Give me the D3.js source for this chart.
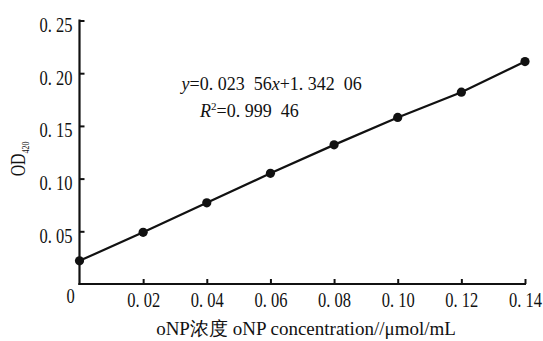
<!DOCTYPE html>
<html><head><meta charset="utf-8">
<script src="https://cdn.jsdelivr.net/npm/d3@7/dist/d3.min.js"></script>
<style>
html,body{margin:0;padding:0;background:#fff;}
svg text{font-family:"Liberation Serif","Times New Roman",serif;fill:#111;}
</style></head>
<body><svg id="c" width="543" height="341"></svg>
<script>
const concentrations = [0, 0.02, 0.04, 0.06, 0.08, 0.10, 0.12, 0.14];
const odValues = [0.022, 0.049, 0.077, 0.105, 0.132, 0.158, 0.182, 0.211];
const xTickValues = [0.02, 0.04, 0.06, 0.08, 0.10, 0.12, 0.14];
const xTickLabels = ["0. 02", "0. 04", "0. 06", "0. 08", "0. 10", "0. 12", "0. 14"];
const yTickValues = [0.05, 0.10, 0.15, 0.20, 0.25];
const yTickLabels = ["0. 05", "0. 10", "0. 15", "0. 20", "0. 25"];
const originLabel = "0";
const xTitle = "oNP浓度 oNP concentration//μmol/mL";
const yTitle = "OD";
const yTitleSub = "420";

const FONT = '"Liberation Serif","Times New Roman",serif';
const svg = d3.select("#c");
const x = d3.scaleLinear().domain([0, 0.14]).range([79.5, 525]);
const y = d3.scaleLinear().domain([0, 0.25]).range([284, 20.5]);
const ink = "#111";

// X axis
const xAxis = d3.axisBottom(x).tickValues(xTickValues)
  .tickFormat((d, i) => xTickLabels[i]).tickSizeInner(-5).tickSizeOuter(0).tickPadding(0);
const gx = svg.append("g").attr("transform", `translate(0,${y(0)})`).call(xAxis)
  .attr("font-family", FONT);
gx.select(".domain").attr("stroke", ink).attr("stroke-width", 2.2)
  .attr("d", `M${x(0) - 1.1},0H${x(0.14) + 1}`);
gx.selectAll(".tick line").attr("stroke", ink).attr("stroke-width", 2);
gx.selectAll(".tick text").attr("y", null).attr("dy", null)
  .attr("transform", "translate(0,23.3) scale(0.75,1)")
  .attr("font-family", FONT).attr("font-size", 22).attr("text-anchor", "middle").attr("fill", ink);

// Y axis
const yAxis = d3.axisLeft(y).tickValues(yTickValues)
  .tickFormat((d, i) => yTickLabels[i]).tickSizeInner(-5).tickSizeOuter(0).tickPadding(0);
const gy = svg.append("g").attr("transform", `translate(${x(0)},0)`).call(yAxis)
  .attr("font-family", FONT);
gy.select(".domain").attr("stroke", ink).attr("stroke-width", 2.2)
  .attr("d", `M0,${y(0) + 1.1}V${y(0.25) - 1}`);
gy.selectAll(".tick line").attr("stroke", ink).attr("stroke-width", 2);
gy.selectAll(".tick text").attr("x", null).attr("dy", null)
  .attr("transform", "translate(-7,11) scale(0.75,1)")
  .attr("font-family", FONT).attr("font-size", 22).attr("text-anchor", "end").attr("fill", ink);

// origin label
svg.append("text").attr("transform", `translate(${x(0) - 9},${y(0) + 18.7}) scale(0.75,1)`)
  .attr("font-size", 22).attr("text-anchor", "middle").text(originLabel);

// data line
const line = d3.line().x((d, i) => x(concentrations[i])).y(d => y(d));
svg.append("path").datum(odValues).attr("d", line)
  .attr("fill", "none").attr("stroke", ink).attr("stroke-width", 2.2);
svg.selectAll("circle.pt").data(odValues).join("circle").attr("class", "pt")
  .attr("cx", (d, i) => x(concentrations[i])).attr("cy", d => y(d)).attr("r", 4.6).attr("fill", ink);

// equation
const eq = svg.append("text").attr("x", 181.5).attr("y", 90).attr("font-size", 18);
eq.append("tspan").attr("font-style", "italic").text("y");
eq.append("tspan").text("=0. 023\u200256");
eq.append("tspan").attr("font-style", "italic").text("x");
eq.append("tspan").text("+1. 342\u200206");
const r2 = svg.append("text").attr("x", 200).attr("y", 116.5).attr("font-size", 18);
r2.append("tspan").attr("font-style", "italic").text("R");
r2.append("tspan").attr("font-size", 11).attr("dy", -7).text("2");
r2.append("tspan").attr("dy", 7).text("=0. 999\u200246");

// x title
svg.append("text").attr("x", 306).attr("y", 335).attr("font-size", 19)
  .attr("text-anchor", "middle").text(xTitle);

// y title
const yt = svg.append("text").attr("transform", "translate(25,159) rotate(-90) scale(0.72,1)")
  .attr("font-size", 22).attr("text-anchor", "middle");
yt.append("tspan").text(yTitle);
yt.append("tspan").attr("font-size", 11).attr("dy", 4).text(yTitleSub);
</script></body></html>
